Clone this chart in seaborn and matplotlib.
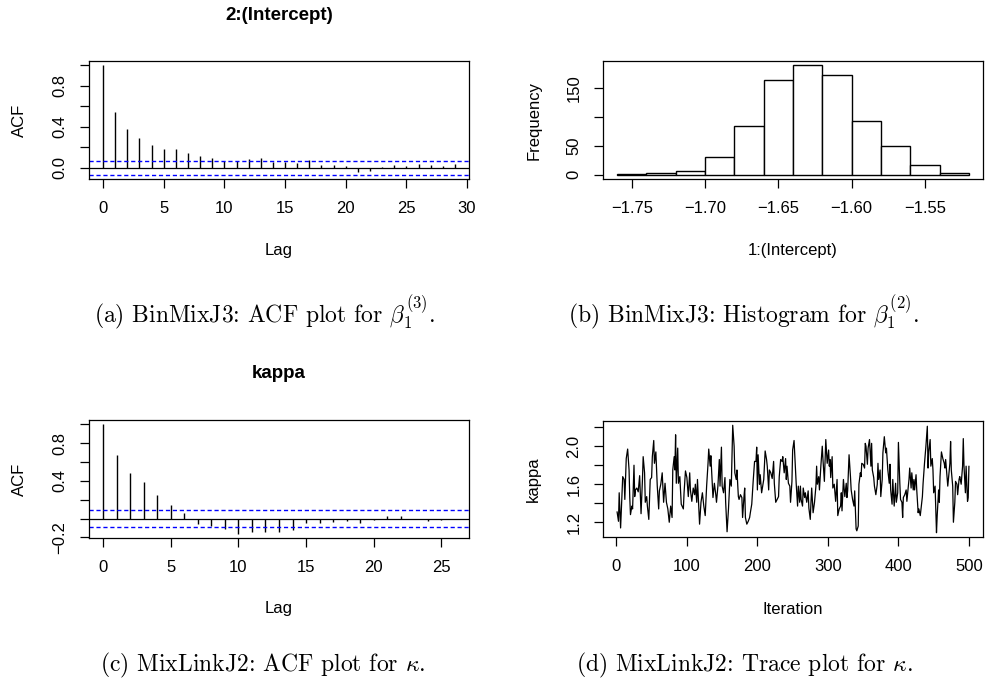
import numpy as np
import pandas as pd
import seaborn as sns
import matplotlib
matplotlib.use("Agg")
import matplotlib.pyplot as plt

# ---------------- data ----------------
# (a) ACF of 2:(Intercept), lags 0..29
acf_a_lags = list(range(30))
acf_a_vals = [1.0, 0.545, 0.381, 0.289, 0.223, 0.177, 0.180, 0.144, 0.118, 0.098,
              0.062, 0.062, 0.082, 0.089, 0.052, 0.056, 0.046, 0.072, 0.026, 0.023,
              0.013, -0.043, -0.036, 0.003, 0.023, 0.013, 0.039, 0.023, 0.016, 0.036]
acf_a_ci = 0.069

# (b) histogram of 1:(Intercept)
hist_edges = [-1.76, -1.74, -1.72, -1.70, -1.68, -1.66, -1.64, -1.62, -1.60, -1.58, -1.56, -1.54, -1.52]
hist_counts = [1, 2, 6, 31, 84, 164, 189, 172, 92, 49, 16, 2]

# (c) ACF of kappa, lags 0..26
acf_c_lags = list(range(27))
acf_c_vals = [1.0, 0.670, 0.482, 0.387, 0.252, 0.142, 0.060, -0.053, -0.078, -0.113,
              -0.160, -0.142, -0.145, -0.142, -0.124, -0.050, -0.046, -0.035, -0.028, -0.043,
              -0.018, 0.025, 0.025, -0.004, -0.021, -0.014, -0.007]
acf_c_ci = 0.0877

# (d) trace of kappa (iteration, value)
trace_iter = [1, 3, 4, 6, 9, 11, 12, 14, 16, 18, 19, 20, 22, 23, 25, 26, 27, 29, 31, 33,
              35, 37, 38, 40, 41, 43, 44, 46, 48, 50, 51, 53, 54, 56, 58, 60, 61, 63, 65, 67,
              69, 71, 73, 75, 77, 79, 80, 82, 83, 84, 85, 87, 88, 90, 92, 95, 96, 98, 100,
              102, 104, 105, 107, 109, 111, 112, 114, 115, 118, 120, 122, 124, 126, 128, 130,
              131, 133, 134, 136, 137, 139, 141, 142, 144, 146, 147, 149, 150, 152, 154, 155,
              157, 159, 161, 163, 165, 167, 168, 170, 171, 173, 174, 176, 178, 179, 181, 182,
              183, 185, 187, 189, 190, 192, 194, 196, 198, 199, 200,
              201, 203, 204, 206, 208, 209, 211, 213, 214, 216, 217, 219, 221, 223, 224, 226,
              228, 230, 231, 233, 235, 236, 238, 240, 241, 242, 244, 246, 247, 249, 250, 252,
              254, 255, 257, 258, 260, 261, 262, 264, 265, 267, 268, 270, 272, 273, 275, 276,
              277, 279, 281, 283, 284, 285, 287, 288, 290, 292, 293, 295, 297, 299, 301,
              302, 303, 304, 306, 307, 309, 311, 313, 314, 316, 318, 319, 320, 322, 324, 326,
              327, 328, 330, 332, 333, 335, 337, 338, 340, 341, 343, 344, 346, 347, 348, 350,
              352, 353, 354, 356, 357, 359, 361, 362, 363, 365, 366, 368, 370, 371, 372, 374,
              375, 377, 378, 380, 382, 383, 385, 387, 388, 389, 391, 392, 394, 396, 397, 399,
              400, 402, 403, 405, 406, 407, 409, 411, 412, 414, 415, 416, 418, 419, 421, 422,
              423, 425, 426, 428, 429, 431, 432, 434, 435, 437, 439, 441, 442, 443, 445, 446,
              448, 449, 450, 452, 454, 455, 457, 458, 459, 461, 463, 465, 466, 467, 469, 470,
              472, 473, 474, 475, 477, 478, 480, 481, 483, 484, 486, 487, 489, 491, 492, 493,
              495, 496, 498, 499, 500]
trace_vals = [1.31, 1.21, 1.51, 1.14, 1.68, 1.65, 1.44, 1.87, 1.97, 1.75, 1.46, 1.28, 1.37, 1.34,
              1.80, 1.47, 1.54, 1.56, 1.52, 1.69, 1.29, 1.65, 1.89, 1.72, 1.41, 1.47, 1.37, 1.23,
              1.65, 1.67, 1.89, 2.06, 1.82, 1.94, 1.58, 1.34, 1.53, 1.60, 1.72, 1.41, 1.61, 1.41,
              1.34, 1.20, 1.37, 1.25, 1.75, 1.89, 1.75, 2.12, 1.61, 1.98, 1.61, 1.68, 1.39, 1.34,
              1.51, 1.74, 1.67,
              1.47, 1.72, 1.54, 1.42, 1.56, 1.49, 1.60, 1.41, 1.65, 1.18, 1.41, 1.51, 1.37, 1.27,
              1.58, 1.82, 1.97, 1.79, 1.90, 1.60, 1.46, 1.61, 1.49, 1.41, 1.58, 1.86, 1.58, 1.99,
              1.58, 1.51, 1.67, 1.41, 1.10, 1.34, 1.65, 1.58, 2.22, 2.00, 1.72, 1.65, 1.75, 1.47,
              1.44, 1.49, 1.46, 1.25, 1.47, 1.56, 1.25, 1.18, 1.21, 1.25, 1.30, 1.39, 1.63, 1.84,
              1.84, 1.99, 1.54,
              1.91, 1.60, 1.70, 1.51, 1.60, 1.65, 1.95, 1.86, 1.79, 1.54, 1.75, 1.72, 1.66, 1.84,
              1.61, 1.41, 1.44, 1.47, 1.68, 1.86, 1.84, 1.89, 1.72, 1.87, 1.65, 1.79, 1.61, 1.58,
              1.41, 1.63, 1.96, 2.06, 1.75, 1.61, 1.37, 1.58, 1.41, 1.58, 1.44, 1.37, 1.56, 1.46,
              1.51, 1.41, 1.53, 1.35, 1.23, 1.41, 1.56, 1.30, 1.41, 1.58, 1.79, 1.60, 1.68, 1.54,
              1.79, 2.00, 1.86, 1.63, 2.07, 1.82, 1.96,
              1.79, 1.86, 1.67, 1.89, 1.56, 1.60, 1.42, 1.65, 1.27, 1.34, 1.37, 1.51, 1.32, 1.65,
              1.47, 1.61, 1.46, 1.53, 1.91, 1.68, 1.54, 1.44, 1.37, 1.53, 1.13, 1.11, 1.16, 1.60,
              1.72, 1.68, 1.82, 1.81, 1.77, 2.03, 2.00, 1.81, 1.98, 2.07, 1.79, 2.03, 1.75, 1.67,
              1.58, 1.49, 1.60, 1.82, 1.65, 1.75, 1.47, 1.65, 1.93, 2.10, 1.93, 1.98, 1.75, 1.61,
              1.81, 1.54, 1.39, 1.65, 1.37, 1.61, 1.41, 1.51, 2.04,
              1.61, 1.44, 1.41, 1.25, 1.46, 1.49, 1.54, 1.42, 1.58, 1.65, 1.77, 1.56, 1.72, 1.54,
              1.65, 1.54, 1.70, 1.54, 1.30, 1.34, 1.27, 1.34, 1.47, 1.61, 1.82, 2.00, 2.21, 1.77,
              1.94, 2.07, 1.79, 1.87, 1.75, 1.51, 1.58, 1.09, 1.27, 1.54, 1.41, 1.68, 1.94, 1.87,
              1.82, 1.77, 1.86, 1.68, 1.58, 1.74, 1.82, 2.05, 1.75, 1.58, 1.20, 1.41, 1.63, 1.60,
              1.49, 1.65, 1.68, 1.60, 1.79, 2.08, 1.79, 1.51, 1.79, 1.42, 1.46, 1.79]

# ---------------- style ----------------
sns.set_style("white")
plt.rcParams["font.family"] = ["Liberation Sans", "DejaVu Sans"]
plt.rcParams["mathtext.fontset"] = "cm"
plt.rcParams["axes.linewidth"] = 0.9
plt.rcParams["axes.edgecolor"] = "black"
plt.rcParams["text.color"] = "black"
plt.rcParams["axes.labelcolor"] = "black"
plt.rcParams["xtick.color"] = "black"
plt.rcParams["ytick.color"] = "black"

W, H = 985, 688
fig = plt.figure(figsize=(W / 100, H / 100), dpi=100)
LBL = 12


def box(x0, y0, x1, y1):
    return [x0 / W, 1 - y1 / H, (x1 - x0) / W, (y1 - y0) / H]


def rstyle(ax, xticks, xlabels, yticks, ylabels):
    ax.set_xticks(xticks)
    ax.set_xticklabels(xlabels)
    ax.set_yticks(yticks)
    ax.set_yticklabels(ylabels, rotation=90, va="center", ha="right")
    ax.tick_params(axis="both", direction="out", length=6.5, width=0.9,
                   colors="black", labelsize=LBL, bottom=True, left=True)
    ax.tick_params(axis="x", pad=9)
    ax.tick_params(axis="y", pad=9)
    for s in ax.spines.values():
        s.set_visible(True)
        s.set_color("black")
        s.set_linewidth(0.9)


def rlim(lo, hi):
    e = (hi - lo) * 0.04
    return lo - e, hi + e


def minus(s):
    return s.replace("-", "\u2212")


def place_labels(ax, wpx, hpx, xoff, yoff):
    ax.xaxis.set_label_coords(0.5, -xoff / hpx)
    ax.xaxis.label.set_va("center")
    ax.yaxis.set_label_coords(-yoff / wpx, 0.5)
    ax.yaxis.label.set_va("center")


def acf_panel(ax, lags, vals, ci, title, yticks, ylabels, xticks, tpos):
    ax.vlines(lags, 0, vals, colors="black", linewidth=1.0)
    ax.axhline(0, color="black", linewidth=0.9)
    ax.axhline(ci, color="#0000ff", linestyle=(0, (3, 2)), linewidth=1.0)
    ax.axhline(-ci, color="#0000ff", linestyle=(0, (3, 2)), linewidth=1.0)
    ax.set_xlim(*rlim(min(lags), max(lags)))
    ax.set_ylim(*rlim(min(min(vals), -ci), max(max(vals), ci)))
    rstyle(ax, xticks, [str(t) for t in xticks], yticks, ylabels)
    ax.set_xlabel("Lag", fontsize=LBL)
    ax.set_ylabel("ACF", fontsize=LBL)
    ax.set_title(title, fontsize=13.5, fontweight="bold", pad=0,
                 y=tpos, va="center")


# (a)
ax_a = fig.add_axes(box(89, 61, 469, 179))
acf_panel(ax_a, acf_a_lags, acf_a_vals, acf_a_ci, "2:(Intercept)",
          [0, 0.2, 0.4, 0.6, 0.8, 1.0], ["0.0", "", "0.4", "", "0.8", ""],
          [0, 5, 10, 15, 20, 25, 30], 1 + 46 / 118)
place_labels(ax_a, 380, 118, 71, 70)

# (b)
ax_b = fig.add_axes(box(603, 61, 983, 179))
centers = [(hist_edges[i] + hist_edges[i + 1]) / 2 for i in range(len(hist_counts))]
hdf = pd.DataFrame({"x": centers, "w": hist_counts})
sns.histplot(data=hdf, x="x", weights="w", bins=hist_edges, ax=ax_b,
             color="white", edgecolor="black", linewidth=1.0, alpha=1.0)
ax_b.set_xlim(*rlim(hist_edges[0], hist_edges[-1]))
ax_b.set_ylim(*rlim(0, max(hist_counts)))
bx = [-1.75, -1.70, -1.65, -1.60, -1.55]
rstyle(ax_b, bx, [minus(f"{t:.2f}") for t in bx], [0, 50, 100, 150], ["0", "50", "", "150"])
ax_b.set_xlabel("1:(Intercept)", fontsize=LBL)
ax_b.set_ylabel("Frequency", fontsize=LBL)
place_labels(ax_b, 380, 118, 71, 69)

# (c)
ax_c = fig.add_axes(box(89, 420, 469, 538))
acf_panel(ax_c, acf_c_lags, acf_c_vals, acf_c_ci, "kappa",
          [-0.2, 0, 0.2, 0.4, 0.6, 0.8, 1.0], ["\u22120.2", "", "", "0.4", "", "0.8", ""],
          [0, 5, 10, 15, 20, 25], 1 + 47 / 118)
place_labels(ax_c, 380, 118, 71, 70)

# (d)
ax_d = fig.add_axes(box(603, 421, 983, 537))
tdf = pd.DataFrame({"Iteration": trace_iter, "kappa": trace_vals})
sns.lineplot(data=tdf, x="Iteration", y="kappa", ax=ax_d, color="black", linewidth=0.9)
ax_d.set_xlim(*rlim(1, 500))
ax_d.set_ylim(*rlim(min(trace_vals), max(trace_vals)))
rstyle(ax_d, [0, 100, 200, 300, 400, 500], ["0", "100", "200", "300", "400", "500"],
       [1.2, 1.4, 1.6, 1.8, 2.0, 2.2], ["1.2", "", "1.6", "", "2.0", ""])
ax_d.set_xlabel("Iteration", fontsize=LBL)
ax_d.set_ylabel("kappa", fontsize=LBL)
place_labels(ax_d, 380, 116, 73, 70)

# captions
cap_kw = dict(fontsize=17, family="cmr10", ha="center", va="center")
fig.text(265 / W, 1 - 313 / H, r"(a) BinMixJ3: ACF plot for $\beta_1^{(3)}$.", **cap_kw)
fig.text(744 / W, 1 - 313 / H, r"(b) BinMixJ3: Histogram for $\beta_1^{(2)}$.", **cap_kw)
fig.text(263 / W, 1 - 665 / H, r"(c) MixLinkJ2: ACF plot for $\kappa$.", **cap_kw)
fig.text(744 / W, 1 - 665 / H, r"(d) MixLinkJ2: Trace plot for $\kappa$.", **cap_kw)

fig.savefig("out.png", dpi=100)
